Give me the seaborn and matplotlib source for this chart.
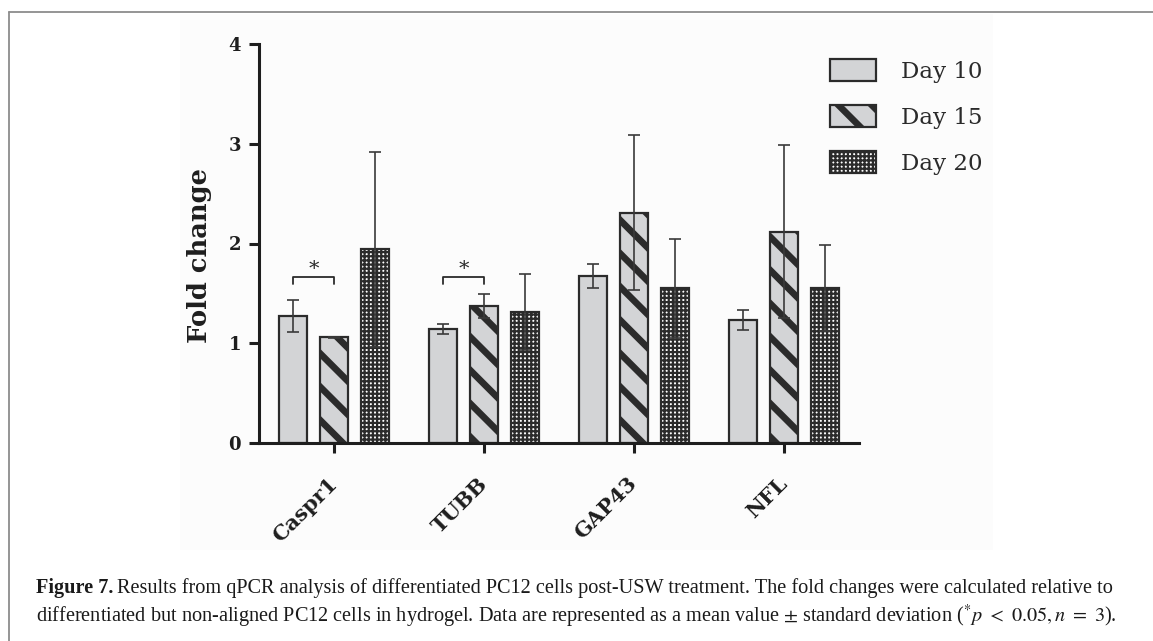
import pandas as pd
import matplotlib
matplotlib.use("Agg")
import matplotlib.pyplot as plt
import matplotlib.patches as mpatches
from matplotlib.lines import Line2D
import seaborn as sns

# data
genes = ["Caspr1", "TUBB", "GAP43", "NFL"]
days = ["Day 10", "Day 15", "Day 20"]

mean_day10 = [1.27, 1.14, 1.67, 1.23]
mean_day15 = [1.06, 1.37, 2.31, 2.12]
mean_day20 = [1.94, 1.31, 1.55, 1.55]

sd_day10 = [0.16, 0.05, 0.12, 0.10]
sd_day15 = [0.005, 0.12, 0.78, 0.87]
sd_day20 = [0.98, 0.38, 0.50, 0.43]

# significant pairs (gene, day a, day b) and bracket heights
sig_pairs = [("Caspr1", "Day 10", "Day 15"), ("TUBB", "Day 10", "Day 15")]
sig_height = [1.66, 1.66]

caption_1 = ("Results from qPCR analysis of differentiated PC12 cells post-USW treatment. "
             "The fold changes were calculated relative to")
caption_2 = ("differentiated but non-aligned PC12 cells in hydrogel. Data are represented as a "
             r"mean value $\pm$ standard deviation ($^{*}p\ <\ 0.05, n\ =\ 3$).")

means = [mean_day10, mean_day15, mean_day20]
sds = [sd_day10, sd_day15, sd_day20]

rows = []
for d, m in zip(days, means):
    for g, v in zip(genes, m):
        rows.append({"gene": g, "day": d, "fold": v})
df = pd.DataFrame(rows)

# style
sns.set_theme(style="ticks")
plt.rcParams["font.family"] = ["DejaVu Serif", "DejaVu Sans"]
plt.rcParams["mathtext.fontset"] = "stix"

fill = {"Day 10": "#d3d4d6", "Day 15": "#d3d4d6", "Day 20": "#ffffff"}
hatch = {"Day 10": "", "Day 15": "\\", "Day 20": "++++"}
hatch_lw = {"Day 10": 1.0, "Day 15": 4.8, "Day 20": 1.6}
edge = "#2b2b2b"

W, H = 1153, 641
fig = plt.figure(figsize=(W / 100, H / 100), dpi=100)

# faint background of the embedded chart + page frame
fig.patches.append(mpatches.Rectangle((180 / W, 1 - 550 / H), (993 - 180) / W, (550 - 14) / H,
                                      transform=fig.transFigure, facecolor="#fcfcfc",
                                      edgecolor="none", zorder=-5))
fig.add_artist(Line2D([9 / W, 9 / W], [0, 1 - 12 / H], color="#8c8c8c", lw=1.3))
fig.add_artist(Line2D([9 / W, 1], [1 - 12 / H, 1 - 12 / H], color="#8c8c8c", lw=1.3))

ax = fig.add_axes([259 / W, 1 - 443 / H, 600 / W, 399 / H])
ax.patch.set_alpha(0)

sns.barplot(data=df, x="gene", y="fold", hue="day", order=genes, hue_order=days,
            palette=fill, saturation=1, errorbar=None, width=0.82, gap=0.32,
            edgecolor=edge, linewidth=1.6, legend=False, ax=ax)

for cont, d, sd in zip(ax.containers, days, sds):
    for p in cont:
        p.set_hatch(hatch[d])
        if hasattr(p, "set_hatch_linewidth"):
            p.set_hatch_linewidth(hatch_lw[d])
    xs = [p.get_x() + p.get_width() / 2 for p in cont]
    ys = [p.get_height() for p in cont]
    ax.errorbar(xs, ys, yerr=sd, fmt="none", ecolor="#3a3a3a", elinewidth=1.2,
                capsize=4, capthick=1.2, zorder=4)

# significance brackets
for (g, da, db), h in zip(sig_pairs, sig_height):
    pa = ax.containers[days.index(da)][genes.index(g)]
    pb = ax.containers[days.index(db)][genes.index(g)]
    xa = pa.get_x() + pa.get_width() / 2
    xb = pb.get_x() + pb.get_width() / 2
    ax.plot([xa, xa, xb, xb], [h - 0.07, h, h, h - 0.07], color="#2b2b2b", lw=1.3)
    ax.text((xa + xb) / 2, h - 0.02, "*", ha="center", va="bottom", fontsize=15,
            color="#2b2b2b")

ax.set_xlim(-0.5, 3.5)
ax.set_ylim(0, 4)
ax.set_yticks([0, 1, 2, 3, 4])
ax.set_xlabel("")
ax.set_ylabel("Fold change", fontsize=18.5, fontweight="bold", color="#1e1e1e")
ax.yaxis.set_label_coords(-0.078, 0.47)
sns.despine(ax=ax)
for s in ["left", "bottom"]:
    ax.spines[s].set_linewidth(2.2)
    ax.spines[s].set_color("#1e1e1e")
ax.tick_params(axis="both", width=2.2, length=7, color="#1e1e1e")
ax.tick_params(axis="y", labelsize=13, pad=6)
ax.tick_params(axis="x", labelsize=15, pad=20)
for lbl in ax.get_yticklabels():
    lbl.set_fontweight("bold")
    lbl.set_color("#1e1e1e")
for lbl in ax.get_xticklabels():
    lbl.set_fontweight("bold")
    lbl.set_color("#1e1e1e")
    lbl.set_rotation(45)
    lbl.set_ha("right")
    lbl.set_va("center")
    lbl.set_rotation_mode("anchor")

# legend
handles = [mpatches.Patch(facecolor=fill[d], edgecolor=edge, hatch=hatch[d], linewidth=1.6)
           for d in days]
leg = fig.legend(handles, days, loc="upper left", bbox_to_anchor=(830 / W, 1 - 59 / H),
                 frameon=False, borderpad=0, borderaxespad=0, handlelength=2.0,
                 handleheight=1.1, handletextpad=1.1, labelspacing=0.97,
                 prop={"family": "DejaVu Serif", "size": 16.5})
for lh, d in zip(leg.legend_handles, days):
    if hasattr(lh, "set_hatch_linewidth"):
        lh.set_hatch_linewidth(hatch_lw[d])
for t in leg.get_texts():
    t.set_color("#2a2a2a")

# caption
cap_font = {"family": "Liberation Serif", "size": 14.6, "color": "#1a1a1a"}
fig.canvas.draw()
renderer = fig.canvas.get_renderer()
t1 = fig.text(36 / W, 1 - 588 / H, "Figure 7.", fontweight="bold", va="center", **cap_font)
bb = t1.get_window_extent(renderer)
fig.text(bb.x1 / W + 4 / W, 1 - 588 / H, caption_1, va="center", **cap_font)
fig.text(36 / W, 1 - 616 / H, caption_2, va="center", **cap_font)

fig.savefig("out.png", dpi=100)
